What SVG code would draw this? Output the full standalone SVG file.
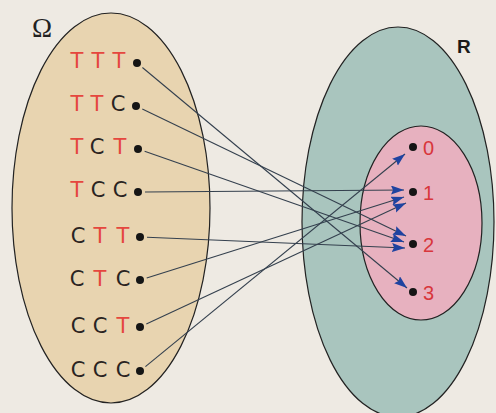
<svg xmlns="http://www.w3.org/2000/svg" width="496" height="413" viewBox="0 0 496 413">
<style>
.lt{font-family:"DejaVu Sans","Liberation Sans",sans-serif;font-size:21px;text-anchor:middle}
.r{fill:#e5473e}
.k{fill:#2a2422}
.num{font-family:"Liberation Sans",Arial,sans-serif;font-size:20px;fill:#d8363b}
.dot{fill:#151515}
.ln{stroke:#34404e;stroke-width:1.1;fill:none;marker-end:url(#ah)}
</style>
<defs>
<marker id="ah" markerUnits="userSpaceOnUse" markerWidth="15" markerHeight="10" refX="13" refY="4.5" orient="auto">
<path d="M0,0 L13,4.5 L0,9 L2,4.5 z" fill="#1f43a0"/>
</marker>
</defs>
<rect width="496" height="413" fill="#eeeae3"/>
<g id="omega">
<ellipse cx="111" cy="208" rx="99" ry="195" fill="#e8d4b0" stroke="#222" stroke-width="1.2"/>
<text x="32" y="37" font-family="Liberation Serif,serif" font-size="27" fill="#222">Ω</text>
</g>
<g id="R">
<ellipse cx="398" cy="222" rx="96" ry="195" fill="#a9c5be" stroke="#222" stroke-width="1.2"/>
<text x="457" y="53" font-family="Liberation Sans,Arial,sans-serif" font-size="19" font-weight="bold" fill="#1a1a1a">R</text>
</g>
<g id="image">
<ellipse cx="421" cy="223" rx="61" ry="97" fill="#e7b1bf" stroke="#222" stroke-width="1.2"/>
</g>
<g id="connectors">
<line class="ln" x1="142.4" y1="67.5" x2="407" y2="288"/>
<line class="ln" x1="142.3" y1="109.1" x2="406" y2="236"/>
<line class="ln" x1="144.6" y1="151.3" x2="404" y2="242"/>
<line class="ln" x1="145" y1="192" x2="404" y2="190"/>
<line class="ln" x1="147" y1="237.3" x2="405" y2="248"/>
<line class="ln" x1="146.7" y1="277.9" x2="404" y2="197"/>
<line class="ln" x1="146.3" y1="324" x2="406" y2="203"/>
<line class="ln" x1="145.4" y1="366.6" x2="405" y2="154"/>
</g>
<g id="TTT"><text class="lt" y="68"><tspan class="r" x="77">T</tspan><tspan class="r" x="98">T</tspan><tspan class="r" x="119">T</tspan></text><circle class="dot" cx="137" cy="63" r="4"/></g>
<g id="TTC"><text class="lt" y="111"><tspan class="r" x="77">T</tspan><tspan class="r" x="97">T</tspan><tspan class="k" x="118">C</tspan></text><circle class="dot" cx="136" cy="106" r="4"/></g>
<g id="TCT"><text class="lt" y="154"><tspan class="r" x="77">T</tspan><tspan class="k" x="97">C</tspan><tspan class="r" x="120">T</tspan></text><circle class="dot" cx="138" cy="149" r="4"/></g>
<g id="TCC"><text class="lt" y="197"><tspan class="r" x="77">T</tspan><tspan class="k" x="98">C</tspan><tspan class="k" x="120">C</tspan></text><circle class="dot" cx="138" cy="192" r="4"/></g>
<g id="CTT"><text class="lt" y="243"><tspan class="k" x="78">C</tspan><tspan class="r" x="100">T</tspan><tspan class="r" x="123">T</tspan></text><circle class="dot" cx="140" cy="237" r="4"/></g>
<g id="CTC"><text class="lt" y="286"><tspan class="k" x="77">C</tspan><tspan class="r" x="100">T</tspan><tspan class="k" x="123">C</tspan></text><circle class="dot" cx="140" cy="280" r="4"/></g>
<g id="CCT"><text class="lt" y="333"><tspan class="k" x="78">C</tspan><tspan class="k" x="100">C</tspan><tspan class="r" x="123">T</tspan></text><circle class="dot" cx="140" cy="327" r="4"/></g>
<g id="CCC"><text class="lt" y="377"><tspan class="k" x="78">C</tspan><tspan class="k" x="100">C</tspan><tspan class="k" x="123">C</tspan></text><circle class="dot" cx="140" cy="371" r="4"/></g>
<g id="n0"><circle class="dot" cx="413" cy="147" r="4"/><text class="num" x="423" y="155">0</text></g>
<g id="n1"><circle class="dot" cx="413" cy="192" r="4"/><text class="num" x="423" y="200">1</text></g>
<g id="n2"><circle class="dot" cx="413" cy="244" r="4"/><text class="num" x="423" y="252">2</text></g>
<g id="n3"><circle class="dot" cx="413" cy="292" r="4"/><text class="num" x="423" y="300">3</text></g>
</svg>
